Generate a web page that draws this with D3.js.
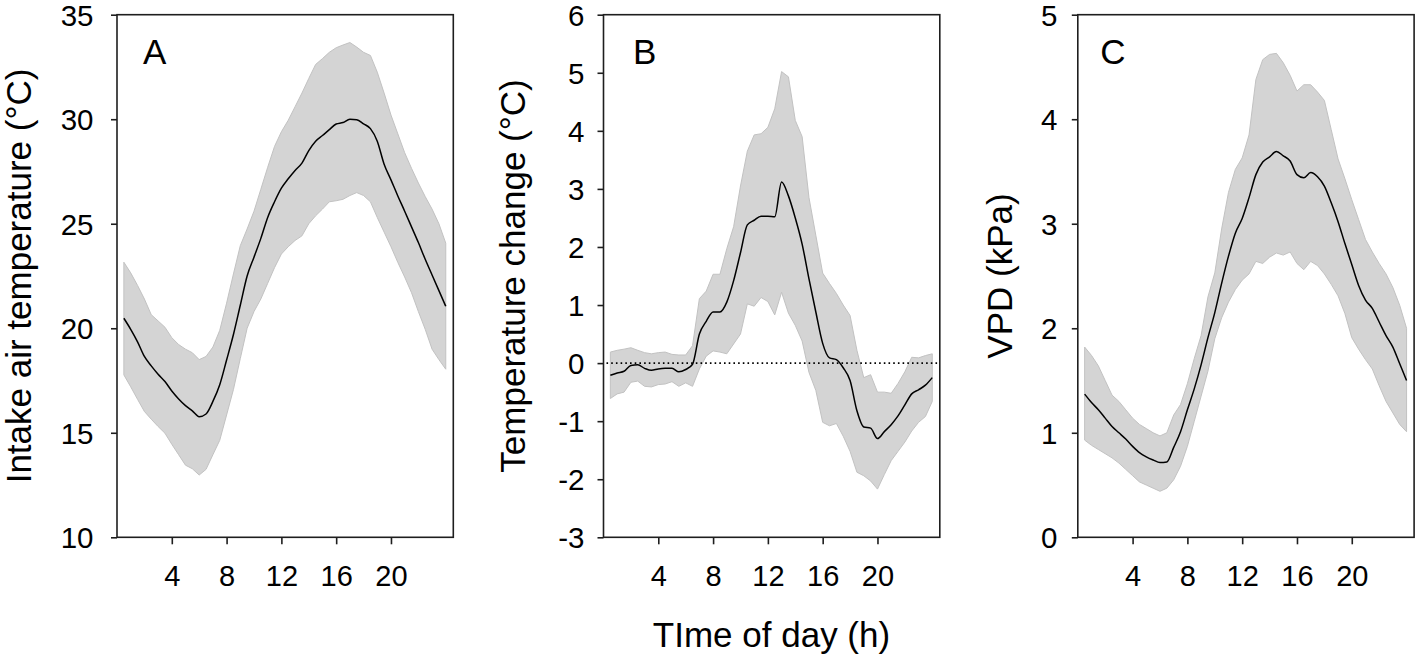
<!DOCTYPE html>
<html><head><meta charset="utf-8">
<script src="https://cdn.jsdelivr.net/npm/d3@7"></script>
<style>
body{margin:0;background:#fff}
text{font-family:"Liberation Sans",Arial,Helvetica,sans-serif;fill:#000}
</style>
</head><body>
<svg id="chart" width="1418" height="659"></svg>
<script>
// ---- data (half-hourly) ----
const hours = [0.5,1,1.5,2,2.5,3,3.5,4,4.5,5,5.5,6,6.5,7,7.5,8,8.5,9,9.5,10,10.5,11,11.5,12,12.5,13,13.5,14,14.5,15,15.5,16,16.5,17,17.5,18,18.5,19,19.5,20,20.5,21,21.5,22,22.5,23,23.5,24];
const xTicks = [4,8,12,16,20];

const airMean  = [20.48,19.95,19.35,18.65,18.2,17.8,17.45,17.0,16.62,16.3,16.05,15.77,15.9,16.5,17.3,18.48,19.7,21.1,22.5,23.4,24.3,25.3,26.05,26.7,27.15,27.55,27.9,28.5,28.95,29.22,29.5,29.77,29.84,30.0,29.98,29.78,29.55,28.95,27.85,27.1,26.33,25.6,24.85,24.1,23.3,22.55,21.8,21.05];
const airUpper = [23.16,22.65,22.05,21.4,20.65,20.35,20.05,19.55,19.22,19.0,18.83,18.5,18.65,19.1,19.9,21.2,22.6,23.95,24.75,25.6,26.65,27.7,28.7,29.4,29.95,30.6,31.25,31.95,32.62,32.9,33.2,33.42,33.55,33.67,33.45,33.2,33.05,32.25,31.25,30.2,29.3,28.4,27.65,26.95,26.3,25.7,25.0,24.07];
const airLower = [17.77,17.2,16.6,16.02,15.65,15.3,14.98,14.45,13.95,13.45,13.28,12.98,13.25,13.95,14.64,15.85,17.07,18.55,20.0,20.8,21.4,22.15,22.9,23.55,23.9,24.2,24.42,25.0,25.38,25.7,26.05,26.1,26.17,26.35,26.49,26.35,26.05,25.3,24.6,23.9,23.15,22.45,21.7,20.8,19.95,19.0,18.5,18.04];
const airTicks = [10,15,20,25,30,35];

const dtMean  = [-0.21,-0.17,-0.14,-0.04,-0.03,-0.09,-0.125,-0.10,-0.09,-0.09,-0.15,-0.11,-0.02,0.5,0.72,0.88,0.88,1.05,1.42,1.9,2.38,2.46,2.53,2.53,2.52,3.12,2.88,2.5,2.05,1.45,0.88,0.34,0.09,0.06,-0.08,-0.30,-0.82,-1.10,-1.12,-1.3,-1.18,-1.06,-0.91,-0.72,-0.53,-0.46,-0.38,-0.25];
const dtUpper = [0.19,0.22,0.24,0.265,0.22,0.18,0.16,0.18,0.19,0.15,0.14,0.14,0.30,1.11,1.24,1.53,1.53,1.97,2.35,3.05,3.65,3.93,3.95,4.06,4.38,5.02,4.93,4.18,3.9,2.85,2.2,1.55,1.37,1.2,1.0,0.82,0.22,-0.25,-0.2,-0.5,-0.5,-0.52,-0.35,-0.15,0.1,0.09,0.13,0.16];
const dtLower = [-0.61,-0.53,-0.50,-0.33,-0.31,-0.40,-0.41,-0.37,-0.36,-0.32,-0.40,-0.34,-0.40,-0.1,0.12,0.21,0.19,0.16,0.33,0.5,1.02,0.98,1.13,1.06,0.83,1.22,0.86,0.65,0.38,-0.16,-0.47,-1.02,-1.08,-1.04,-1.26,-1.52,-1.88,-1.94,-2.03,-2.17,-1.92,-1.68,-1.52,-1.36,-1.17,-1.02,-0.92,-0.66];
const dtTicks = [-3,-2,-1,0,1,2,3,4,5,6];

const vpdMean  = [1.37,1.29,1.22,1.14,1.06,1.0,0.94,0.87,0.81,0.77,0.74,0.715,0.72,0.86,1.01,1.22,1.42,1.65,1.91,2.15,2.43,2.69,2.91,3.05,3.25,3.47,3.59,3.64,3.69,3.65,3.6,3.47,3.44,3.49,3.45,3.36,3.2,3.02,2.81,2.61,2.41,2.27,2.19,2.06,1.93,1.82,1.66,1.5];
const vpdUpper = [1.82,1.74,1.64,1.5,1.36,1.3,1.22,1.14,1.08,1.04,1.0,0.97,1.0,1.17,1.27,1.47,1.71,1.93,2.3,2.53,2.95,3.3,3.52,3.63,3.85,4.38,4.57,4.62,4.63,4.54,4.42,4.27,4.33,4.33,4.26,4.18,3.9,3.62,3.43,3.23,3.04,2.85,2.73,2.62,2.52,2.39,2.22,2.0];
const vpdLower = [0.93,0.88,0.84,0.80,0.76,0.71,0.65,0.59,0.53,0.5,0.47,0.44,0.47,0.55,0.68,0.87,1.11,1.35,1.59,1.9,2.1,2.25,2.37,2.46,2.52,2.64,2.62,2.68,2.72,2.7,2.73,2.62,2.56,2.64,2.6,2.52,2.42,2.31,2.14,1.91,1.8,1.7,1.61,1.45,1.3,1.19,1.08,1.01];
const vpdTicks = [0,1,2,3,4,5];

const panelLetters = ["A","B","C"];
const yTitles = ["Intake air temperature (°C)","Temperature change (°C)","VPD (kPa)"];
const xTitle = "TIme of day (h)";

// ---- layout ----
const panels = [
  {mean:airMean, upper:airUpper, lower:airLower, ticks:airTicks, domain:[10,35], left:117,    labPad:17.5, titleX:31,     letterDx:26,   zero:false},
  {mean:dtMean,  upper:dtUpper,  lower:dtLower,  ticks:dtTicks,  domain:[-3,6],  left:603.5,  labPad:13,   titleX:525,    letterDx:29.5, zero:true},
  {mean:vpdMean, upper:vpdUpper, lower:vpdLower, ticks:vpdTicks, domain:[0,5],   left:1077.8, labPad:14.5, titleX:1011.5, letterDx:22.5, zero:false}
];
const plotTop = 14.7, plotBottom = 537.3, pw = 336.3;
const fontFam = '"Liberation Sans",Arial,sans-serif';

const svg = d3.select("#chart");

panels.forEach((p, i) => {
  const x = d3.scaleLinear().domain([0, 24.55]).range([p.left, p.left + pw]);
  const y = d3.scaleLinear().domain(p.domain).range([plotBottom, plotTop]);
  const g = svg.append("g");

  const rows = hours.map((h, k) => ({h, m:p.mean[k], u:p.upper[k], l:p.lower[k]}));

  g.append("path").datum(rows)
    .attr("d", d3.area().x(d => x(d.h)).y0(d => y(d.l)).y1(d => y(d.u)))
    .attr("fill", "#d4d4d4").attr("stroke", "#c2c2c2").attr("stroke-width", 1);

  if (p.zero) {
    g.append("line")
      .attr("x1", p.left + 3).attr("x2", p.left + pw)
      .attr("y1", y(0)).attr("y2", y(0))
      .attr("stroke", "#000").attr("stroke-width", 1.6)
      .attr("stroke-dasharray", "1.6,3.1");
  }

  g.append("path").datum(rows)
    .attr("d", d3.line().x(d => x(d.h)).y(d => y(d.m)).curve(d3.curveMonotoneX))
    .attr("fill", "none").attr("stroke", "#000").attr("stroke-width", 1.5);

  // frame
  g.append("rect").attr("x", p.left).attr("y", plotTop)
    .attr("width", pw).attr("height", plotBottom - plotTop)
    .attr("fill", "none").attr("stroke", "#1e1e1e").attr("stroke-width", 1.6);

  // y axis
  const ya = g.append("g").attr("transform", `translate(${p.left},0)`)
    .call(d3.axisLeft(y).tickValues(p.ticks).tickSize(6).tickSizeOuter(0).tickPadding(p.labPad).tickFormat(d => String(d)));
  ya.select(".domain").remove();
  ya.selectAll("line").attr("stroke", "#1e1e1e").attr("stroke-width", 1.6);
  ya.selectAll("text").attr("font-size", 29.5).attr("font-family", fontFam).attr("fill", "#000").attr("dy", "0.36em");

  // x axis
  const xa = g.append("g").attr("transform", `translate(0,${plotBottom})`)
    .call(d3.axisBottom(x).tickValues(xTicks).tickSize(7).tickSizeOuter(0).tickPadding(21).tickFormat(d => String(d)));
  xa.select(".domain").remove();
  xa.selectAll("line").attr("stroke", "#1e1e1e").attr("stroke-width", 1.6);
  xa.selectAll("text").attr("font-size", 29).attr("font-family", fontFam).attr("fill", "#000");

  // panel letter
  g.append("text").attr("x", p.left + p.letterDx).attr("y", 63.5)
    .attr("font-size", 35).text(panelLetters[i]);

  // y title
  g.append("text")
    .attr("transform", `translate(${p.titleX},${(plotTop + plotBottom) / 2}) rotate(-90)`)
    .attr("text-anchor", "middle").attr("font-size", 35).text(yTitles[i]);
});

svg.append("text").attr("x", 771.5).attr("y", 646.5).attr("text-anchor", "middle")
  .attr("font-size", 35).text(xTitle);
</script>
</body></html>
